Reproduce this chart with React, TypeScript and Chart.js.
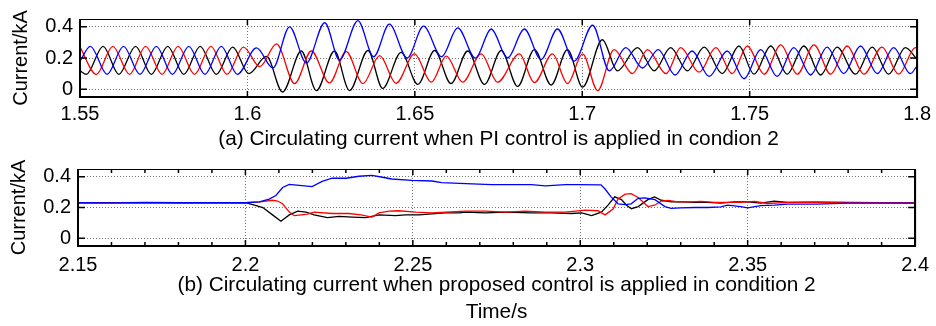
import React, { useEffect, useRef } from 'react';
import { Chart, registerables } from 'chart.js';

Chart.register(...registerables);

const FONT = '"Liberation Sans", Arial, Helvetica, sans-serif';

// ---------- Panel (a): PI control, 1.55 – 1.8 s (peaks / troughs) ----------
const redTopT = [1.55, 1.5549, 1.5598, 1.5648, 1.5696, 1.5745, 1.5793, 1.5842, 1.5891, 1.5939, 1.5988, 1.6037, 1.6087, 1.6141, 1.6191, 1.6245, 1.6295, 1.6345, 1.6395, 1.6444, 1.6499, 1.6549, 1.6594, 1.6643, 1.6698, 1.6747, 1.6812, 1.6857, 1.6911, 1.6956, 1.7001, 1.7046, 1.7095, 1.715, 1.7195, 1.725, 1.7294, 1.7349, 1.7399, 1.7448, 1.7493, 1.7543, 1.7593, 1.7642, 1.7692, 1.7742, 1.7791, 1.7841, 1.7895, 1.7945, 1.7995, 1.8];
const redTopV = [0.27, 0.095, 0.275, 0.095, 0.275, 0.095, 0.275, 0.095, 0.275, 0.095, 0.27, 0.145, 0.29, 0.036, 0.245, 0.04, 0.241, 0.036, 0.215, 0.038, 0.226, 0.045, 0.212, 0.045, 0.226, 0.045, 0.226, 0.042, 0.226, 0.036, 0.226, -0.009, 0.254, 0.1, 0.254, 0.1, 0.266, 0.109, 0.266, 0.1, 0.277, 0.096, 0.284, 0.096, 0.284, 0.096, 0.277, 0.096, 0.27, 0.096, 0.266, 0.262];

const blackTopT = [1.55, 1.5519, 1.5569, 1.5616, 1.5666, 1.5713, 1.5762, 1.581, 1.5859, 1.5907, 1.5956, 1.6004, 1.6057, 1.6105, 1.6161, 1.6206, 1.626, 1.6305, 1.636, 1.6404, 1.6459, 1.6509, 1.6559, 1.6608, 1.6658, 1.6708, 1.6758, 1.6807, 1.6857, 1.6907, 1.6956, 1.7001, 1.706, 1.7105, 1.7165, 1.7215, 1.7264, 1.7314, 1.7364, 1.7418, 1.7468, 1.7513, 1.7563, 1.7612, 1.7662, 1.7712, 1.7761, 1.7816, 1.7866, 1.7915, 1.7965, 1.8];
const blackTopV = [0.118, 0.095, 0.275, 0.095, 0.275, 0.095, 0.275, 0.095, 0.275, 0.095, 0.27, 0.1, 0.21, -0.018, 0.245, -0.009, 0.245, -0.009, 0.248, 0.005, 0.236, 0.031, 0.248, 0.036, 0.245, 0.031, 0.248, 0.018, 0.254, 0.027, 0.254, 0.013, 0.317, 0.118, 0.266, 0.118, 0.266, 0.118, 0.27, 0.1, 0.277, 0.096, 0.277, 0.096, 0.277, 0.091, 0.27, 0.096, 0.27, 0.096, 0.266, 0.19];

const blueTopT = [1.55, 1.5531, 1.5581, 1.563, 1.5679, 1.5728, 1.5776, 1.5825, 1.5873, 1.5922, 1.597, 1.6027, 1.6076, 1.6126, 1.6176, 1.6231, 1.6275, 1.633, 1.6377, 1.6424, 1.6477, 1.6526, 1.658, 1.6628, 1.6681, 1.6728, 1.6777, 1.6827, 1.6877, 1.6926, 1.6976, 1.7031, 1.7081, 1.713, 1.718, 1.7227, 1.7277, 1.7328, 1.7379, 1.7433, 1.7483, 1.7533, 1.7582, 1.7632, 1.7682, 1.7731, 1.7781, 1.7831, 1.7881, 1.793, 1.798, 1.8];
const blueTopV = [0.18, 0.275, 0.095, 0.275, 0.095, 0.275, 0.095, 0.275, 0.095, 0.275, 0.095, 0.265, 0.136, 0.4, 0.168, 0.426, 0.187, 0.44, 0.208, 0.417, 0.2, 0.404, 0.208, 0.393, 0.199, 0.386, 0.2, 0.386, 0.19, 0.386, 0.18, 0.41, 0.118, 0.266, 0.136, 0.254, 0.091, 0.245, 0.082, 0.245, 0.067, 0.254, 0.082, 0.266, 0.091, 0.27, 0.1, 0.277, 0.1, 0.266, 0.1, 0.15];

// ---------- Panel (b): proposed control, 2.15 – 2.4 s ----------
const blueBotT = [2.15, 2.16, 2.17, 2.18, 2.19, 2.2, 2.2042, 2.2071, 2.2091, 2.2111, 2.2131, 2.2161, 2.2199, 2.2229, 2.2259, 2.2301, 2.2339, 2.2378, 2.2405, 2.2437, 2.2497, 2.2557, 2.2586, 2.2658, 2.2735, 2.2795, 2.2854, 2.2896, 2.2955, 2.2994, 2.3062, 2.3074, 2.3092, 2.3113, 2.3134, 2.3152, 2.3173, 2.3193, 2.3223, 2.3253, 2.3271, 2.33, 2.3342, 2.3381, 2.342, 2.344, 2.3479, 2.35, 2.3539, 2.358, 2.3619, 2.3708, 2.3797, 2.3887, 2.4];
const blueBotV = [0.232, 0.23, 0.233, 0.231, 0.232, 0.231, 0.236, 0.254, 0.278, 0.33, 0.35, 0.344, 0.336, 0.37, 0.39, 0.39, 0.403, 0.409, 0.398, 0.385, 0.376, 0.372, 0.362, 0.355, 0.349, 0.349, 0.349, 0.34, 0.349, 0.349, 0.347, 0.32, 0.269, 0.224, 0.219, 0.224, 0.26, 0.263, 0.251, 0.206, 0.194, 0.197, 0.2, 0.2, 0.204, 0.215, 0.206, 0.197, 0.212, 0.215, 0.222, 0.222, 0.228, 0.229, 0.229];

const redBotT = [2.15, 2.16, 2.17, 2.18, 2.19, 2.2, 2.2042, 2.2081, 2.2096, 2.2111, 2.2131, 2.2146, 2.2166, 2.2185, 2.2205, 2.2259, 2.2309, 2.2345, 2.2378, 2.2399, 2.2429, 2.2458, 2.2509, 2.2557, 2.2598, 2.2658, 2.2717, 2.2777, 2.2836, 2.2896, 2.2955, 2.3015, 2.3053, 2.3074, 2.3098, 2.3113, 2.3134, 2.3152, 2.3173, 2.3193, 2.3202, 2.3222, 2.3242, 2.3262, 2.3292, 2.333, 2.336, 2.3402, 2.344, 2.3479, 2.3521, 2.3559, 2.3619, 2.37, 2.38, 2.39, 2.4];
const redBotV = [0.229, 0.228, 0.23, 0.228, 0.229, 0.231, 0.237, 0.247, 0.242, 0.224, 0.17, 0.147, 0.152, 0.157, 0.17, 0.161, 0.161, 0.152, 0.138, 0.165, 0.176, 0.179, 0.17, 0.165, 0.17, 0.176, 0.176, 0.17, 0.176, 0.17, 0.17, 0.183, 0.179, 0.152, 0.19, 0.255, 0.287, 0.29, 0.265, 0.224, 0.206, 0.215, 0.242, 0.246, 0.237, 0.237, 0.24, 0.233, 0.233, 0.233, 0.24, 0.226, 0.233, 0.234, 0.231, 0.232, 0.231];

const blackBotT = [2.15, 2.16, 2.17, 2.18, 2.19, 2.2, 2.2027, 2.2052, 2.2081, 2.2106, 2.2131, 2.2156, 2.2181, 2.2205, 2.2245, 2.228, 2.2319, 2.2359, 2.2399, 2.2448, 2.2478, 2.2518, 2.2557, 2.2597, 2.2637, 2.2658, 2.2717, 2.2777, 2.2854, 2.2914, 2.2973, 2.3004, 2.3034, 2.3063, 2.3083, 2.3103, 2.3123, 2.3138, 2.3153, 2.3173, 2.3202, 2.3222, 2.3242, 2.3272, 2.3301, 2.3341, 2.3381, 2.342, 2.346, 2.35, 2.3539, 2.3579, 2.3619, 2.37, 2.38, 2.39, 2.4];
const blackBotV = [0.231, 0.232, 0.23, 0.232, 0.23, 0.231, 0.215, 0.2, 0.152, 0.111, 0.152, 0.176, 0.17, 0.152, 0.134, 0.143, 0.138, 0.134, 0.152, 0.147, 0.152, 0.152, 0.158, 0.165, 0.165, 0.17, 0.165, 0.17, 0.165, 0.165, 0.161, 0.165, 0.147, 0.17, 0.215, 0.269, 0.251, 0.215, 0.192, 0.206, 0.251, 0.269, 0.247, 0.237, 0.237, 0.233, 0.233, 0.229, 0.237, 0.237, 0.229, 0.242, 0.233, 0.235, 0.233, 0.232, 0.232];

// ---------- Ticks / labels ----------
const topXTicks = [1.55, 1.6, 1.65, 1.7, 1.75, 1.8];
const botXTicks = [2.15, 2.2, 2.25, 2.3, 2.35, 2.4];
const botMinorTicks = [2.16, 2.17, 2.18, 2.19, 2.21, 2.22, 2.23, 2.24, 2.26, 2.27, 2.28, 2.29, 2.31, 2.32, 2.33, 2.34, 2.36, 2.37, 2.38, 2.39];
const yTicks = [0, 0.2, 0.4];
const yTitle = 'Current/kA';
const captionA = '(a) Circulating current when PI control is applied in condion 2';
const captionB = '(b) Circulating current when proposed control is applied in condition 2';
const xTitleB = 'Time/s';

const zip = (t: number[], v: number[]) => t.map((x, i) => ({ x, y: v[i] }));

function framePlugin(xMajor: number[], xMinor: number[], yMajor: number[]) {
  return {
    id: 'matlabFrame',
    afterDatasetsDraw(chart: any) {
      const { ctx, chartArea, scales } = chart;
      const { left, right, top, bottom } = chartArea;
      const xs = scales.x;
      const ys = scales.y;
      ctx.save();
      ctx.strokeStyle = '#000';
      ctx.lineWidth = 1.5;
      ctx.beginPath();
      for (const v of xMajor) {
        const px = xs.getPixelForValue(v);
        ctx.moveTo(px, bottom);
        ctx.lineTo(px, bottom - 6);
        ctx.moveTo(px, top);
        ctx.lineTo(px, top + 6);
      }
      for (const v of xMinor) {
        const px = xs.getPixelForValue(v);
        ctx.moveTo(px, bottom);
        ctx.lineTo(px, bottom - 4);
        ctx.moveTo(px, top);
        ctx.lineTo(px, top + 4);
      }
      for (const v of yMajor) {
        const py = ys.getPixelForValue(v);
        ctx.moveTo(left, py);
        ctx.lineTo(left + 7, py);
        ctx.moveTo(right, py);
        ctx.lineTo(right - 7, py);
      }
      ctx.stroke();
      ctx.lineWidth = 1;
      ctx.strokeRect(left + 0.5, top + 0.5, right - left - 1, bottom - top - 1);
      ctx.lineWidth = 2;
      ctx.beginPath();
      ctx.moveTo(left, top);
      ctx.lineTo(left, bottom);
      ctx.lineTo(right, bottom);
      ctx.lineTo(right, top);
      ctx.stroke();
      ctx.restore();
    },
  };
}

type PanelProps = {
  top: number;
  height: number;
  xMin: number;
  xMax: number;
  xMajor: number[];
  xMinor: number[];
  series: { color: string; t: number[]; v: number[] }[];
  smooth: boolean;
  padTop: number;
  padRight: number;
  yAxisWidth: number;
  xAxisHeight: number;
  xTitle: string | string[];
  xTitlePadBottom: number;
  xTitleLineHeight: number;
  xTickPad: number;
  yTitlePadTop: number;
  yTickPad: number;
};

function Panel(p: PanelProps) {
  const ref = useRef<HTMLCanvasElement | null>(null);
  useEffect(() => {
    if (!ref.current) return;
    const font = { family: FONT, size: 20, lineHeight: 1.2 };
    const capFont = { family: FONT, size: 20.8, lineHeight: p.xTitleLineHeight };
    const chart = new Chart(ref.current, {
      type: 'line',
      data: {
        datasets: p.series.map((s) => ({
          data: zip(s.t, s.v),
          borderColor: s.color,
          borderWidth: 1.3,
          pointRadius: 0,
          fill: false,
          tension: p.smooth ? 0.4 : 0,
          cubicInterpolationMode: p.smooth ? 'monotone' : 'default',
        })),
      },
      options: {
        responsive: false,
        animation: false,
        events: [],
        layout: { padding: { top: p.padTop, right: p.padRight, left: 0, bottom: 0 } },
        plugins: { legend: { display: false }, tooltip: { enabled: false }, title: { display: false } },
        scales: {
          x: {
            type: 'linear',
            min: p.xMin,
            max: p.xMax,
            afterBuildTicks: (s: any) => {
              s.ticks = p.xMajor.map((v) => ({ value: v }));
            },
            afterFit: (s: any) => {
              s.height = p.xAxisHeight;
            },
            ticks: {
              autoSkip: false,
              maxRotation: 0,
              color: '#000',
              font,
              padding: p.xTickPad,
              callback: (v: any) => String(+(+v).toFixed(2)),
            },
            grid: { color: 'rgba(0,0,0,0.55)', lineWidth: 1, drawTicks: false },
            border: { display: false, dash: [1, 2] },
            title: {
              display: true,
              text: p.xTitle,
              color: '#000',
              font: capFont,
              padding: { top: 0, bottom: p.xTitlePadBottom },
            },
          },
          y: {
            type: 'linear',
            min: -0.05,
            max: 0.45,
            afterBuildTicks: (s: any) => {
              s.ticks = yTicks.map((v) => ({ value: v }));
            },
            afterFit: (s: any) => {
              s.width = p.yAxisWidth;
            },
            ticks: {
              color: '#000',
              font,
              padding: p.yTickPad,
              callback: (v: any) => String(+(+v).toFixed(2)),
            },
            grid: { color: 'rgba(0,0,0,0.55)', lineWidth: 1, drawTicks: false },
            border: { display: false, dash: [1, 2] },
            title: {
              display: true,
              text: yTitle,
              color: '#000',
              font,
              padding: { top: p.yTitlePadTop, bottom: 0 },
            },
          },
        },
      } as any,
      plugins: [framePlugin(p.xMajor, p.xMinor, yTicks)],
    });
    return () => chart.destroy();
  }, []);
  return (
    <canvas
      ref={ref}
      width={936}
      height={p.height}
      style={{ position: 'absolute', left: 0, top: p.top, width: 936, height: p.height }}
    />
  );
}

export default function App() {
  return (
    <div style={{ position: 'fixed', left: 0, top: 0, width: 936, height: 326, background: '#fff', overflow: 'hidden' }}>
      <Panel
        top={0}
        height={160}
        xMin={1.55}
        xMax={1.8}
        xMajor={topXTicks}
        xMinor={[]}
        series={[
          { color: '#0000ff', t: blueTopT, v: blueTopV },
          { color: '#ff0000', t: redTopT, v: redTopV },
          { color: '#000000', t: blackTopT, v: blackTopV },
        ]}
        smooth={true}
        padTop={6}
        padRight={18}
        yAxisWidth={80}
        xAxisHeight={63}
        xTitle={captionA}
        xTitlePadBottom={8.5}
        xTitleLineHeight={1.2}
        xTickPad={5}
        yTitlePadTop={9}
        yTickPad={7}
      />
      <Panel
        top={150}
        height={176}
        xMin={2.15}
        xMax={2.4}
        xMajor={botXTicks}
        xMinor={botMinorTicks}
        series={[
          { color: '#0000ff', t: blueBotT, v: blueBotV },
          { color: '#ff0000', t: redBotT, v: redBotV },
          { color: '#000000', t: blackBotT, v: blackBotV },
        ]}
        smooth={false}
        padTop={4}
        padRight={19}
        yAxisWidth={78}
        xAxisHeight={80}
        xTitle={[captionB, xTitleB]}
        xTitlePadBottom={0}
        xTitleLineHeight={1.3}
        xTickPad={7}
        yTitlePadTop={7}
        yTickPad={7}
      />
    </div>
  );
}
